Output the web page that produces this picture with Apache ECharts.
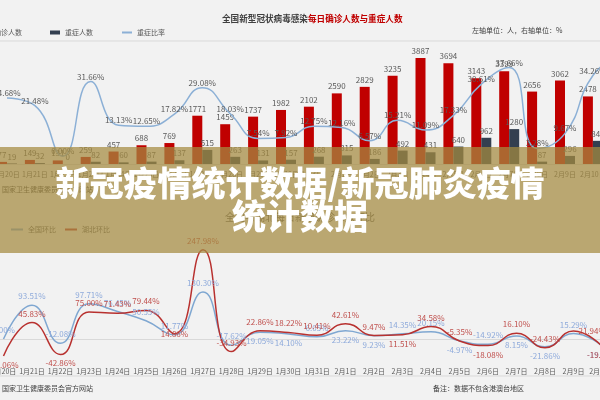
<!DOCTYPE html>
<html lang="zh-CN">
<head>
<meta charset="UTF-8">
<title>新冠疫情统计数据</title>
<script src="https://cdn.jsdelivr.net/npm/echarts@6/dist/echarts.min.js"></script>
<style>
  html, body { margin: 0; padding: 0; background: #f2f2f2; }
  #main { width: 600px; height: 400px; }
</style>
</head>
<body>
<div id="main"></div>
<script>
// 日期（最后一天只露出一点）
var days = ['1月20日', '1月21日', '1月22日', '1月23日', '1月24日', '1月25日', '1月26日',
  '1月27日', '1月28日', '1月29日', '1月30日', '1月31日', '2月1日', '2月2日', '2月3日',
  '2月4日', '2月5日', '2月6日', '2月7日', '2月8日', '2月9日', '2月10日', '2月11日'];

// 全国每日确诊人数 / 重症人数 / 重症比率(%)
var confirmed = [77, 149, 131, 259, 457, 688, 769, 1771, 1459, 1737, 1982, 2102, 2590, 2829,
  3235, 3887, 3694, 3143, 3399, 2656, 3062, 2478, 2015];
var severe = [19, 32, 0, 82, 60, 87, 137, 515, 263, 131, 157, 268, 315, 186, 492, 431, 640,
  962, 1280, 87, 296, 849, 871];
var severeRatio = [24.68, 21.48, 0.00, 31.66, 13.13, 12.65, 17.82, 29.08, 18.03, 7.54, 7.92,
  12.75, 12.16, 6.57, 15.21, 11.09, 17.33, 30.61, 37.66, 3.28, 9.67, 34.26, 43.23];

// 确诊人数环比(%)，1月20日至2月10日
var nationRate = [0.00, 93.51, -12.08, 97.71, 76.45, 50.55, 11.77, 130.30, -17.62, 19.05, 14.10,
  6.05, 23.22, 9.23, 14.35, 20.15, -4.97, -14.92, 8.15, -21.86, 15.29, -19.07];
var hubeiRate = [-47.06, 45.83, -42.86, 75.00, 71.43, 79.44, 14.86, 247.98, -34.93, 22.86, 18.22,
  10.41, 42.61, 9.47, 11.51, 34.58, -5.35, -18.08, 16.10, -24.43, 21.94, -19.90];

var FONT = '"Noto Sans CJK SC", "Microsoft YaHei", sans-serif';

// 标签放在线的上方还是下方
var nationPos = ['top', 'top', 'top', 'top', 'top', 'top', 'top', 'top', 'top', 'bottom', 'bottom',
  'top', 'bottom', 'bottom', 'top', 'top', 'bottom', 'top', 'bottom', 'bottom', 'top', 'bottom'];
var hubeiPos = ['bottom', 'top', 'bottom', 'top', 'top', 'top', 'inside', 'top', 'top', 'top', 'top',
  'top', 'top', 'top', 'bottom', 'top', 'top', 'bottom', 'top', 'top', 'right', 'bottom'];

function pct(p) { return p.value.toFixed(2) + '%'; }

function withPos(values, pos) {
  return values.map(function (v, i) {
    return { value: v, label: { position: pos[i] } };
  });
}

// 折线：拐点透明，只留标签
function rateLine(name, xi, yi, color, labelColor, gap, data) {
  return {
    name: name,
    type: 'line',
    xAxisIndex: xi,
    yAxisIndex: yi,
    smooth: true,
    symbol: 'circle',
    symbolSize: 2,
    showSymbol: true,
    showAllSymbol: true,
    z: 5,
    lineStyle: { color: color, width: 1.5 },
    itemStyle: { color: 'rgba(0,0,0,0)', borderWidth: 0 },
    label: { show: true, position: 'top', distance: gap, fontSize: 8, color: labelColor, formatter: pct },
    emphasis: { disabled: true },
    data: data
  };
}

function dayAxis(gi, data) {
  return {
    type: 'category',
    gridIndex: gi,
    data: data,
    axisTick: { show: false },
    axisLine: { lineStyle: { color: '#d9d9d9' } },
    axisLabel: { fontSize: 7, color: '#595959', margin: 7, interval: 0 }
  };
}

var chart = echarts.init(document.getElementById('main'));

var option = {
  backgroundColor: '#f2f2f2',
  animation: false,
  textStyle: { fontFamily: FONT },
  title: [{
    left: 217,
    top: 9,
    text: '{a|全国新型冠状病毒感染}{b|每日确诊人数与重症人数}',
    textStyle: {
      rich: {
        a: { fontSize: 8.6, color: '#404040', fontFamily: FONT },
        b: { fontSize: 8.6, color: '#c00000', fontFamily: FONT }
      }
    }
  }, {
    left: 'center',
    top: 207,
    text: '全国与湖北每日新增确诊人数环比',
    textStyle: { fontSize: 10, fontWeight: 'normal', color: '#595959', fontFamily: FONT }
  }],
  legend: [{
    left: -26,
    top: 24,
    itemWidth: 10,
    itemHeight: 4,
    itemGap: 28,
    textStyle: { fontSize: 7, color: '#595959' },
    data: [{ name: '确诊人数', icon: 'rect' }, { name: '重症人数', icon: 'rect' }, '重症比率']
  }, {
    left: 5,
    top: 221,
    itemWidth: 12,
    itemHeight: 4,
    itemGap: 8,
    textStyle: { fontSize: 7, color: '#595959' },
    data: ['全国环比', '湖北环比']
  }],
  grid: [
    { left: -6.95, width: 641.7, top: 41.3, height: 122.7, outerBoundsMode: 'none', containLabel: false },
    { left: -10.75, width: 627, top: 245.4, height: 115.2, outerBoundsMode: 'none', containLabel: false }
  ],
  xAxis: [dayAxis(0, days), dayAxis(1, days.slice(0, 22))],
  yAxis: [
    { type: 'value', gridIndex: 0, min: 0, max: 4500, show: false, splitLine: { show: false } },
    { type: 'value', gridIndex: 0, min: -3.33, max: 48.78, show: false, splitLine: { show: false } },
    { type: 'value', gridIndex: 1, min: -60, max: 260, show: false, splitLine: { show: false } }
  ],
  series: [{
    name: '确诊人数',
    type: 'bar',
    xAxisIndex: 0,
    yAxisIndex: 0,
    barWidth: 10,
    barGap: '0%',
    itemStyle: { color: '#c00000' },
    label: { show: true, position: 'top', distance: 3, fontSize: 8, color: '#595959' },
    data: confirmed
  }, {
    name: '重症人数',
    type: 'bar',
    xAxisIndex: 0,
    yAxisIndex: 0,
    barWidth: 10,
    barGap: '0%',
    itemStyle: { color: '#333f50' },
    label: { show: true, position: 'top', distance: 3, fontSize: 8, color: '#595959' },
    data: severe
  },
  rateLine('重症比率', 0, 1, '#8cb0d6', '#595959', 0, severeRatio),
  rateLine('全国环比', 1, 2, '#7fa7d1', '#8eaadb', 4, withPos(nationRate, nationPos)),
  rateLine('湖北环比', 1, 2, '#b8312f', '#c0504d', 4, withPos(hubeiRate, hubeiPos))
  ],
  graphic: [
    { type: 'line', shape: { x1: 0, y1: 41, x2: 600, y2: 41 }, style: { stroke: '#d9d9d9', lineWidth: 1 }, silent: true },
    { type: 'line', shape: { x1: 0, y1: 376, x2: 600, y2: 376 }, style: { stroke: '#d9d9d9', lineWidth: 1 }, silent: true },
    { type: 'text', left: 472, top: 27, style: { text: '左轴单位：人，右轴单位：%', font: '7px ' + FONT, fill: '#404040' } },
    { type: 'text', left: 2, top: 186, style: { text: '国家卫生健康委员会官方网站', font: '7px ' + FONT, fill: '#404040' } },
    { type: 'text', left: 2, top: 385, style: { text: '国家卫生健康委员会官方网站', font: '7px ' + FONT, fill: '#404040' } },
    { type: 'text', left: 433, top: 385, style: { text: '备注：数据不包含港澳台地区', font: '7px ' + FONT, fill: '#404040' } },
    // 横幅
    { type: 'rect', z: 100, shape: { x: 0, y: 147, width: 600, height: 106 }, style: { fill: 'rgba(164,139,64,0.73)' }, silent: true },
    {
      type: 'text', z: 101, x: 300, y: 183,
      style: {
        text: '新冠疫情统计数据/新冠肺炎疫情', align: 'center', verticalAlign: 'middle',
        font: '900 34px ' + FONT, fill: '#ffffff',
        shadowBlur: 4, shadowColor: 'rgba(50,30,0,0.85)', shadowOffsetX: 1, shadowOffsetY: 1
      }
    },
    {
      type: 'text', z: 101, x: 300, y: 216,
      style: {
        text: '统计数据', align: 'center', verticalAlign: 'middle',
        font: '900 34px ' + FONT, fill: '#ffffff',
        shadowBlur: 4, shadowColor: 'rgba(50,30,0,0.85)', shadowOffsetX: 1, shadowOffsetY: 1
      }
    }
  ]
};

chart.setOption(option);
</script>
</body>
</html>
